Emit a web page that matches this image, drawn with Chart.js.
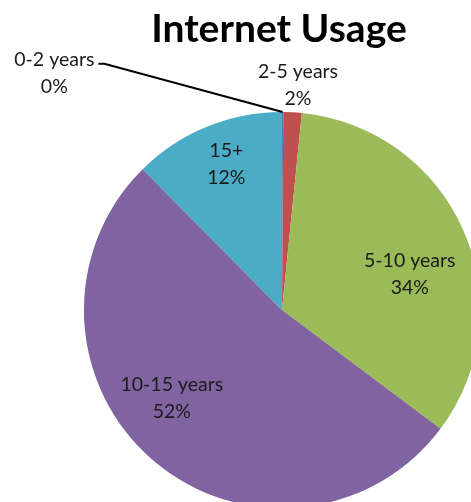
<!DOCTYPE html>
<html>
<head>
<meta charset="utf-8">
<script src="https://cdn.jsdelivr.net/npm/chart.js@4.4.1/dist/chart.umd.min.js"></script>
<style>
  html, body { margin: 0; padding: 0; background: #fff; overflow: hidden; }
  #wrap { width: 471px; height: 502px; }
</style>
</head>
<body>
<div id="wrap"><canvas id="graficoPie" width="471" height="502"></canvas></div>
<script>
const categories = ['0-2 years', '2-5 years', '5-10 years', '10-15 years', '15+'];
const usage = [0.1, 1.5, 33.6, 52.3, 12.4];
const sliceColors = ['#4F81BD', '#C0504D', '#9BBB59', '#8064A2', '#4BACC6'];

// where each label sits: angle shift from slice middle (deg) and distance as share of radius
const labelShift = [-44, 1, 8, 10.5, 1.5];
const labelDist = [1.66, 1.14, 0.67, 0.71, 0.79];

const FONT = 'Lato, "Open Sans", sans-serif';

const labelsPlugin = {
  id: 'sliceLabels',
  afterDatasetsDraw(chart) {
    const ctx = chart.ctx;
    const meta = chart.getDatasetMeta(0);
    const total = usage.reduce((a, b) => a + b, 0);
    ctx.save();

    // title over the pie
    const c0 = meta.data[0];
    ctx.fillStyle = '#000';
    ctx.font = 'bold 39px ' + FONT;
    ctx.textAlign = 'center';
    ctx.textBaseline = 'alphabetic';
    ctx.fillText('Internet Usage', c0.x - 3, 42);

    ctx.font = '19.5px ' + FONT;
    ctx.textBaseline = 'middle';
    meta.data.forEach((arc, i) => {
      const p = arc.getProps(['x', 'y', 'startAngle', 'endAngle', 'outerRadius']);
      const mid = (p.startAngle + p.endAngle) / 2 + labelShift[i] * Math.PI / 180;
      const r = p.outerRadius * labelDist[i];
      const lx = p.x + Math.cos(mid) * r;
      const ly = p.y + Math.sin(mid) * r;
      const pct = Math.round(usage[i] / total * 100) + '%';
      ctx.fillStyle = '#1a1a1a';
      ctx.fillText(categories[i], lx, ly - 13);
      ctx.fillText(pct, lx, ly + 14);

      if (i === 0) {
        // leader line to the tiny slice
        const w = ctx.measureText(categories[i]).width;
        const sx = lx + w / 2 + 4;
        const sy = ly - 9;
        const ma = (p.startAngle + p.endAngle) / 2;
        ctx.strokeStyle = '#000';
        ctx.lineWidth = 2;
        ctx.beginPath();
        ctx.moveTo(sx, sy);
        ctx.lineTo(sx + 6, sy);
        ctx.lineTo(p.x + Math.cos(ma) * p.outerRadius, p.y + Math.sin(ma) * p.outerRadius);
        ctx.stroke();
      }
    });
    ctx.restore();
  }
};

const ctx = document.getElementById('graficoPie').getContext('2d');
new Chart(ctx, {
  type: 'pie',
  data: {
    labels: categories,
    datasets: [{
      label: 'Internet Usage',
      data: usage,
      backgroundColor: sliceColors,
      borderWidth: 0,
      radius: '104.8%'
    }]
  },
  options: {
    responsive: false,
    animation: false,
    layout: { padding: { left: 93, top: 118, right: 0, bottom: 0 } },
    plugins: {
      legend: { display: false },
      title: { display: false },
      tooltip: { enabled: false }
    }
  },
  plugins: [labelsPlugin]
});
</script>
</body>
</html>
